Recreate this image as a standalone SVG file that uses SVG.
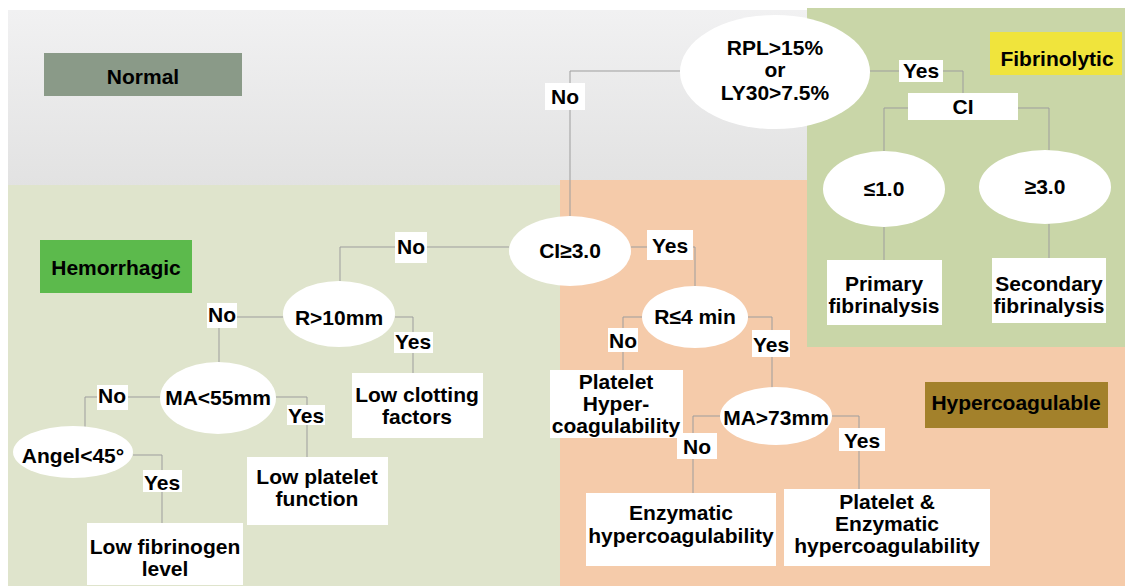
<svg xmlns="http://www.w3.org/2000/svg" width="1125" height="586" viewBox="0 0 1125 586">
<defs>
<linearGradient id="gNormal" x1="0" y1="0" x2="0" y2="1">
<stop offset="0" stop-color="#f1f1f2"/>
<stop offset="1" stop-color="#e2e2e2"/>
</linearGradient>
<style>
text{font-family:"Liberation Sans",Arial,sans-serif;font-weight:bold;font-size:21px;fill:#000;text-anchor:middle}
.box{fill:#ffffff}
.ell{fill:#ffffff}
.conn{fill:none;stroke:#9d9d9d;stroke-width:1}
</style>
</defs>
<rect x="0" y="0" width="1125" height="586" fill="#ffffff"/>
<!-- regions -->
<rect x="8" y="10" width="800" height="176" fill="url(#gNormal)"/>
<rect x="8" y="185" width="552" height="401" fill="#dfe4cc"/>
<rect x="560" y="180" width="565" height="406" fill="#f5cbaa"/>
<rect x="807" y="8" width="318" height="339" fill="#c9d6a8"/>

<g id="connectors">
<path class="conn" d="M680,71 H570 V217"/>
<path class="conn" d="M870,71 H963 V93"/>
<path class="conn" d="M908,108 H884 V151"/>
<path class="conn" d="M1018,108 H1049 V150"/>
<path class="conn" d="M884,227 V260"/>
<path class="conn" d="M1049,224 V258"/>
<path class="conn" d="M509,247 H340 V281"/>
<path class="conn" d="M631,247 H695 V286"/>
<path class="conn" d="M283,317 H219 V362"/>
<path class="conn" d="M395,317 H413 V373"/>
<path class="conn" d="M160,397 H85 V427"/>
<path class="conn" d="M276,397 H307 V457"/>
<path class="conn" d="M133,455 H162 V523"/>
<path class="conn" d="M643,317 H623 V370"/>
<path class="conn" d="M748,317 H772 V388"/>
<path class="conn" d="M720,416 H693 V493"/>
<path class="conn" d="M832,416 H859 V489"/>
</g>

<g id="label-normal"><rect x="44" y="53" width="198" height="43" fill="#8a9a88"/><text x="143" y="84">Normal</text></g>
<g id="label-fibrinolytic"><rect x="990" y="32" width="132" height="43" fill="#f0e43c"/><text x="1057" y="66">Fibrinolytic</text></g>
<g id="label-hemorrhagic"><rect x="40" y="240" width="152" height="53" fill="#5cba4c"/><text x="116" y="275">Hemorrhagic</text></g>
<g id="label-hypercoagulable"><rect x="925" y="382" width="183" height="46" fill="#a3812b"/><text x="1016" y="410">Hypercoagulable</text></g>

<g id="node-rpl"><ellipse class="ell" cx="775" cy="72" rx="95" ry="57"/><text x="775" y="55">RPL&gt;15%</text><text x="775" y="77">or</text><text x="775" y="100">LY30&gt;7.5%</text></g>
<g id="lbl-yes-rpl"><rect class="box" x="899" y="60" width="44" height="22"/><text x="921" y="78">Yes</text></g>
<g id="node-ci"><rect class="box" x="908" y="93" width="110" height="27"/><text x="963" y="114">CI</text></g>
<g id="node-le1"><ellipse class="ell" cx="884" cy="189" rx="61" ry="38"/><text x="884" y="196">≤1.0</text></g>
<g id="node-ge3"><ellipse class="ell" cx="1045" cy="187" rx="66" ry="37"/><text x="1045" y="194">≥3.0</text></g>
<g id="node-primary"><rect class="box" x="827" y="260" width="115" height="65"/><text x="884" y="291">Primary</text><text x="884" y="313">fibrinalysis</text></g>
<g id="node-secondary"><rect class="box" x="992" y="258" width="114" height="65"/><text x="1049" y="291">Secondary</text><text x="1049" y="313">fibrinalysis</text></g>

<g id="lbl-no-rpl"><rect class="box" x="545" y="83" width="40" height="27"/><text x="565" y="104">No</text></g>
<g id="node-ci3"><ellipse class="ell" cx="570" cy="251" rx="61" ry="35"/><text x="570" y="258">CI≥3.0</text></g>
<g id="lbl-no-ci3"><rect class="box" x="395" y="232" width="32" height="31"/><text x="411" y="254">No</text></g>
<g id="lbl-yes-ci3"><rect class="box" x="647" y="230" width="46" height="30"/><text x="670" y="253">Yes</text></g>

<g id="node-r10"><ellipse class="ell" cx="339" cy="314" rx="56" ry="33"/><text x="339" y="325">R&gt;10mm</text></g>
<g id="lbl-no-r10"><rect class="box" x="207" y="303" width="30" height="25"/><text x="222" y="322">No</text></g>
<g id="lbl-yes-r10"><rect class="box" x="394" y="332" width="39" height="21"/><text x="413" y="349">Yes</text></g>
<g id="node-lowclot"><rect class="box" x="352" y="373" width="131" height="65"/><text x="417" y="402">Low clotting</text><text x="417" y="424">factors</text></g>

<g id="node-ma55"><ellipse class="ell" cx="218" cy="398" rx="58" ry="36"/><text x="218" y="405">MA&lt;55mm</text></g>
<g id="lbl-no-ma55"><rect class="box" x="97" y="385" width="31" height="25"/><text x="112" y="403">No</text></g>
<g id="lbl-yes-ma55"><rect class="box" x="287" y="405" width="38" height="20"/><text x="306" y="423">Yes</text></g>
<g id="node-lowplt"><rect class="box" x="247" y="457" width="141" height="68"/><text x="317" y="484">Low platelet</text><text x="317" y="506">function</text></g>

<g id="node-angel"><ellipse class="ell" cx="73" cy="452" rx="60" ry="26"/><text x="73" y="463">Angel&lt;45°</text></g>
<g id="lbl-yes-angel"><rect class="box" x="143" y="470" width="39" height="22"/><text x="162" y="490">Yes</text></g>
<g id="node-lowfib"><rect class="box" x="87" y="523" width="156" height="62"/><text x="165" y="554">Low fibrinogen</text><text x="165" y="576">level</text></g>

<g id="node-r4"><ellipse class="ell" cx="695" cy="317" rx="53" ry="31"/><text x="695" y="324">R≤4 min</text></g>
<g id="lbl-no-r4"><rect class="box" x="608" y="328" width="30" height="24"/><text x="623" y="348">No</text></g>
<g id="lbl-yes-r4"><rect class="box" x="752" y="330" width="38" height="27"/><text x="771" y="352">Yes</text></g>
<g id="node-plthyper"><rect class="box" x="550" y="370" width="133" height="68"/><text x="616" y="389">Platelet</text><text x="616" y="411">Hyper-</text><text x="616" y="433">coagulability</text></g>

<g id="node-ma73"><ellipse class="ell" cx="776" cy="416" rx="56" ry="29"/><text x="776" y="425">MA&gt;73mm</text></g>
<g id="lbl-no-ma73"><rect class="box" x="677" y="433" width="40" height="26"/><text x="697" y="454">No</text></g>
<g id="lbl-yes-ma73"><rect class="box" x="839" y="428" width="46" height="23"/><text x="862" y="448">Yes</text></g>
<g id="node-enz"><rect class="box" x="586" y="493" width="190" height="73"/><text x="681" y="520">Enzymatic</text><text x="681" y="543">hypercoagulability</text></g>
<g id="node-pltenz"><rect class="box" x="784" y="489" width="206" height="77"/><text x="887" y="509">Platelet &amp;</text><text x="887" y="531">Enzymatic</text><text x="887" y="553">hypercoagulability</text></g>
</svg>
